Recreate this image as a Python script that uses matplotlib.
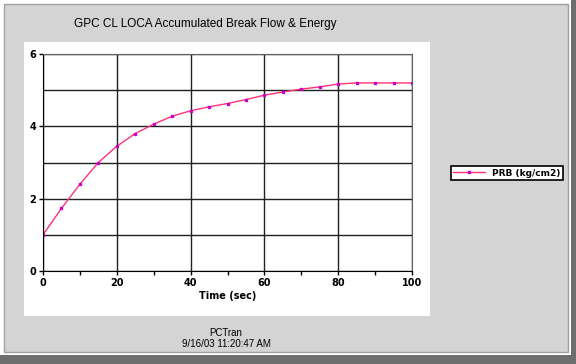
import matplotlib.pyplot as plt
from matplotlib.patches import Rectangle

time = [0, 5, 10, 15, 20, 25, 30, 35, 40, 45, 50, 55, 60, 65, 70, 75, 80, 85, 90, 95, 100]
prb = [1.0, 1.73, 2.40, 3.00, 3.45, 3.80, 4.06, 4.28, 4.43, 4.54, 4.63, 4.74, 4.86, 4.95,
       5.03, 5.09, 5.17, 5.20, 5.20, 5.20, 5.20]

W, H = 576, 364
fig = plt.figure(figsize=(5.76, 3.64), dpi=100, facecolor='white')

def px(x, y, w, h, **kw):
    # rectangle in pixel coords (top-left origin), kept behind the axes
    fig.patches.append(Rectangle((x / W, 1 - (y + h) / H), w / W, h / H,
                                 transform=fig.transFigure, figure=fig, zorder=-10, **kw))

px(0, 0, W, H, facecolor='#ffffff', edgecolor='none')
px(0, 355, W, 9, facecolor='#6e6e6e', edgecolor='none')
px(571, 0, 5, H, facecolor='#6e6e6e', edgecolor='none')
px(4, 4, 564, 348, facecolor='#d4d4d4', edgecolor='#a0a0a0', linewidth=1)
px(24, 42, 406, 274, facecolor='white', edgecolor='none')

ax = fig.add_axes([43 / W, 1 - 271 / H, 369 / W, 217 / H])
ax.plot(time, prb, color='#ff3377', linewidth=1, marker='s', markersize=1.5,
        markerfacecolor='#cc00cc', markeredgecolor='#cc00cc', label='PRB (kg/cm2)')
ax.set_xlim(0, 100)
ax.set_ylim(0, 6)
ax.set_xticks([0, 20, 40, 60, 80, 100])
ax.set_xticks([10, 30, 50, 70, 90], minor=True)
ax.set_yticks([0, 2, 4, 6])
ax.set_yticks([1, 3, 5], minor=True)
ax.set_axisbelow(True)
ax.grid(True, which='both', color='#202020', linewidth=1)
ax.grid(False, axis='x', which='minor')
ax.tick_params(which='both', direction='out', length=3, width=1, pad=2)
ax.tick_params(axis='y', which='minor', length=0)
for lab in ax.get_xticklabels() + ax.get_yticklabels():
    lab.set_fontsize(7)
    lab.set_fontweight('bold')
for s in ['top', 'right']:
    ax.spines[s].set_color('#606060')
for s in ['left', 'bottom']:
    ax.spines[s].set_color('black')
ax.set_xlabel('Time (sec)', fontsize=7, fontweight='bold', labelpad=2)

fig.text(205 / W, 1 - 24 / H, 'GPC CL LOCA Accumulated Break Flow & Energy',
         ha='center', va='center', fontsize=8.5, family='Liberation Sans')
fig.text(226 / W, 1 - 333 / H, 'PCTran', ha='center', va='center', fontsize=7,
         family='Liberation Sans')
fig.text(226 / W, 1 - 344 / H, '9/16/03 11:20:47 AM', ha='center', va='center',
         fontsize=7, family='Liberation Sans')

leg = fig.legend(loc='center', bbox_to_anchor=(507 / W, 1 - 173 / H), fancybox=False,
                 edgecolor='black', framealpha=1, handlelength=3.5, borderpad=0.3,
                 prop={'size': 6.5, 'weight': 'bold'})
leg.get_frame().set_linewidth(1.2)

fig.savefig('out.png', dpi=100, facecolor=fig.get_facecolor())
